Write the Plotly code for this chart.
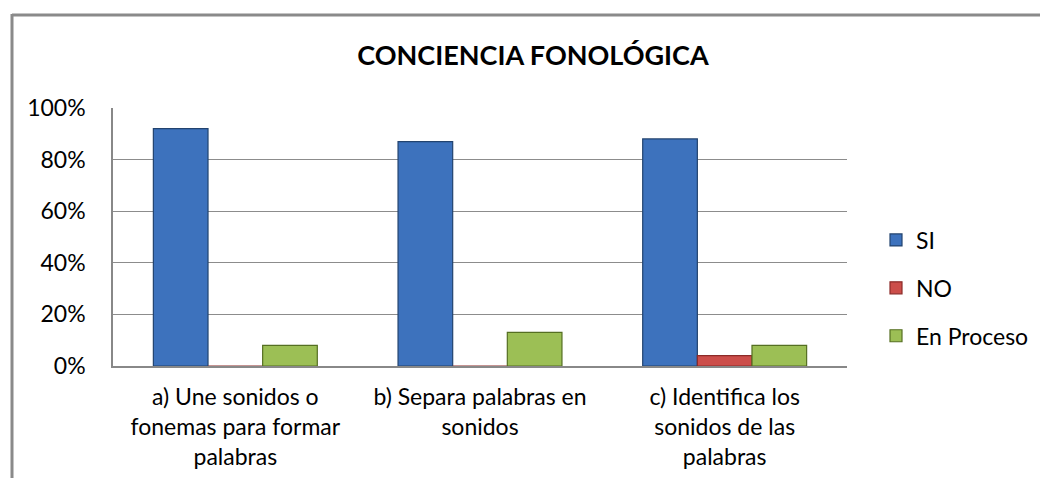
import plotly.graph_objects as go

categories = ["a) Une sonidos o<br>fonemas para formar<br>palabras",
              "b) Separa palabras en<br>sonidos",
              "c) Identifica los<br>sonidos de las<br>palabras"]
si_vals = [0.92, 0.87, 0.88]
no_vals = [0.0, 0.0, 0.04]
proc_vals = [0.08, 0.13, 0.08]
y_ticks = [0, 0.2, 0.4, 0.6, 0.8, 1.0]
y_tick_labels = ["0%", "20%", "40%", "60%", "80%", "100%"]

FONT = "Lato"
OFF = 8  # page body margin
W, H = 1032, 470
L = 113 - OFF
T = 108 - OFF
R = W - (847 - OFF)
B = H - (366 - OFF)
pw, ph = W - L - R, H - T - B

fig = go.Figure()
series = [("SI", si_vals, "#3D72BD", "#22436F"),
          ("NO", no_vals, "#CC4E4A", "#8C2B28"),
          ("En Proceso", proc_vals, "#9CBF55", "#556F22")]
for i, (name, vals, col, edge) in enumerate(series):
    fig.add_trace(go.Bar(
        x=[0, 1, 2], y=vals, name=name, legendgroup=f"g{i}",
        marker=dict(color=col, line=dict(color=edge, width=1.2)),
    ))

def px_x(px):
    # screen px -> paper x
    return (px - OFF - L) / pw

def px_y(py):
    # screen px -> paper y
    return (H - B - (py - OFF)) / ph

fig.update_layout(
    width=W, height=H,
    margin=dict(l=L, r=R, t=T, b=B, autoexpand=False),
    paper_bgcolor="white", plot_bgcolor="white",
    barmode="group", bargap=0.33, bargroupgap=0.0,
    font=dict(family=FONT, size=23, color="#000000"),
    title=dict(text="<b>CONCIENCIA FONOLÓGICA</b>", xref="container",
               x=(533 - OFF) / W, xanchor="center",
               yref="container", y=1 - (56 - OFF) / H, yanchor="middle",
               font=dict(family=FONT, size=27, color="#000000")),
    showlegend=True,
    legend=dict(x=px_x(876), xanchor="left", y=px_y(288), yanchor="middle",
                font=dict(family=FONT, size=23), tracegroupgap=15,
                traceorder="grouped", itemwidth=30, bgcolor="rgba(0,0,0,0)"),
    xaxis=dict(tickmode="array", tickvals=[0, 1, 2], ticktext=categories,
               range=[-0.5, 2.5], showgrid=False, showline=True,
               linecolor="#888888", linewidth=1.5, ticks="",
               tickangle=0, ticklabelstandoff=10,
               tickfont=dict(family=FONT, size=23)),
    yaxis=dict(tickmode="array", tickvals=y_ticks, ticktext=y_tick_labels,
               range=[0, 1.0], showgrid=True, gridcolor="#8C8C8C", gridwidth=1,
               showline=True, linecolor="#888888", linewidth=1.5, ticks="",
               ticklabelstandoff=21, zeroline=False,
               tickfont=dict(family=FONT, size=23)),
    shapes=[
        dict(type="line", xref="paper", yref="paper",
             x0=px_x(12), x1=px_x(1100), y0=px_y(15), y1=px_y(15),
             line=dict(color="#8A8A8A", width=3), layer="below"),
        dict(type="line", xref="paper", yref="paper",
             x0=px_x(12), x1=px_x(12), y0=px_y(14), y1=px_y(560),
             line=dict(color="#8A8A8A", width=3), layer="below"),
    ],
)

fig.write_html("out.html")
